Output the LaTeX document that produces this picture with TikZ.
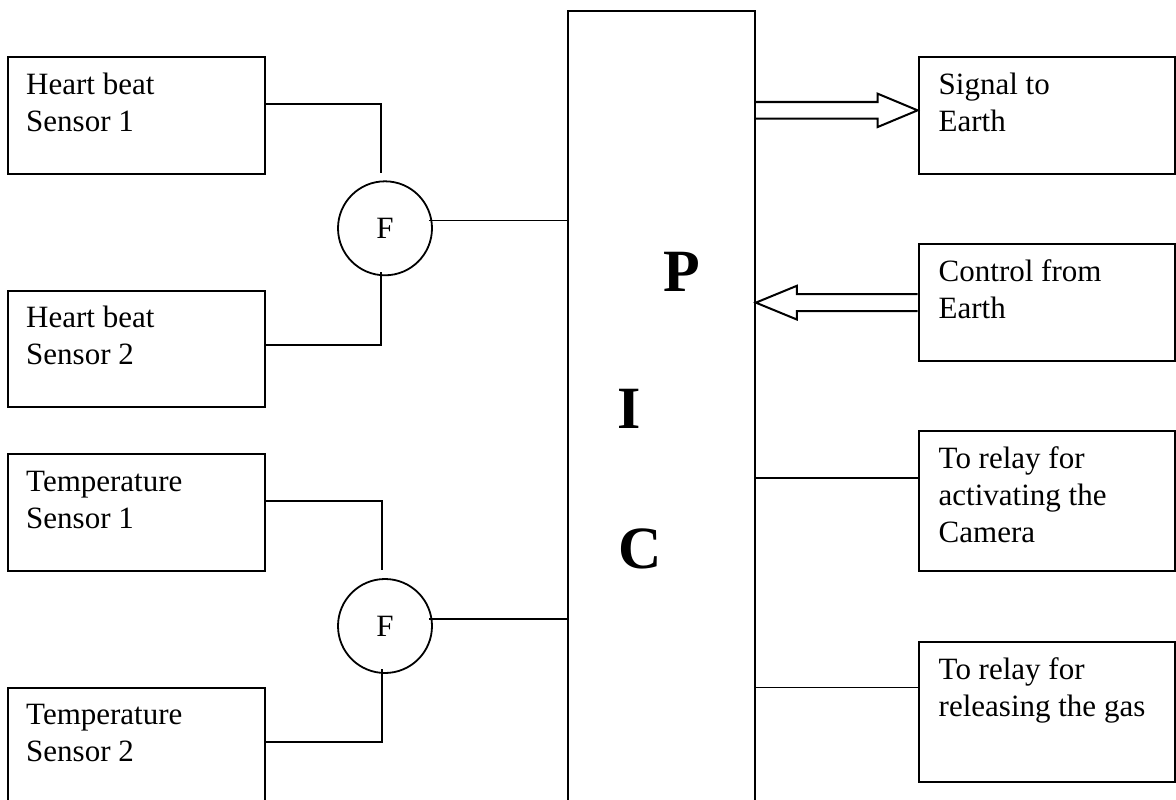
\documentclass[tikz,border=0pt]{standalone}
\usepackage{fontspec}
\setmainfont{Liberation Serif}
\usetikzlibrary{calc}
\begin{document}
\begin{tikzpicture}[x=1pt,y=-1pt,
  box/.style={draw, line width=2pt, rectangle, inner sep=0pt},
  txt/.style={anchor=north west, inner sep=0pt, align=left, font=\fontsize{31}{37}\selectfont},
  conn/.style={line width=1.8pt},
  fnode/.style={draw, circle, line width=1.8pt, minimum size=94pt, inner sep=0pt, font=\fontsize{31}{37}\selectfont},
  big/.style={anchor=base, inner sep=0pt, font=\fontsize{60}{72}\selectfont\bfseries},
  hollow/.style={line width=2pt, line join=miter}]
\useasboundingbox (0,0) rectangle (1176,800);
\clip (0,0) rectangle (1176,800);

% left sensor boxes
\node[box, minimum width=257pt, minimum height=117pt] (hb1) at (136,115.5) {};
\node[box, minimum width=257pt, minimum height=116.6pt] (hb2) at (136,349) {};
\node[box, minimum width=257pt, minimum height=117pt] (ts1) at (136,512.8) {};
\node[box, minimum width=257pt, minimum height=117.3pt] (ts2) at (136,746.35) {};

\node[txt] (hb1t) at ([xshift=19.5pt,yshift=-12.1pt]hb1.north west) {\strut Heart beat\\\strut Sensor 1};
\node[txt] (hb2t) at ([xshift=19.5pt,yshift=-12.1pt]hb2.north west) {\strut Heart beat\\\strut Sensor 2};
\node[txt] (ts1t) at ([xshift=19.5pt,yshift=-12.1pt]ts1.north west) {\strut Temperature\\\strut Sensor 1};
\node[txt] (ts2t) at ([xshift=19.5pt,yshift=-12.1pt]ts2.north west) {\strut Temperature\\\strut Sensor 2};

% filters
\node[fnode] (f1) at (385,228.3) {F};
\node[fnode] (f2) at (385,626) {F};

% PIC
\node[draw, line width=1.7pt, rectangle, inner sep=0pt, minimum width=187pt, minimum height=819.3pt] (pic) at (661.5,420.35) {};
\node[big] (lp) at (681.5,291.7) {P};
\node[big] (li) at (629.5,428.3) {I};
\node[big] (lc) at (640,568) {C};

% right boxes
\node[box, minimum width=256.4pt, minimum height=116.7pt] (sig) at (1046.8,115.35) {};
\node[box, minimum width=256.4pt, minimum height=116.7pt] (ctl) at (1046.8,302.65) {};
\node[box, minimum width=256.4pt, minimum height=140.3pt] (cam) at (1046.8,501.15) {};
\node[box, minimum width=256.4pt, minimum height=139.5pt] (gas) at (1046.8,711.75) {};

\node[txt] (sigt) at ([xshift=20.9pt,yshift=-12.1pt]sig.north west) {\strut Signal to\\\strut Earth};
\node[txt] (ctlt) at ([xshift=20.9pt,yshift=-12.1pt]ctl.north west) {\strut Control from\\\strut Earth};
\node[txt] (camt) at ([xshift=20.9pt,yshift=-12.1pt]cam.north west) {\strut To relay for\\\strut activating the\\\strut Camera};
\node[txt] (gast) at ([xshift=20.9pt,yshift=-12.1pt]gas.north west) {\strut To relay for\\\strut releasing the gas};

% sensor connectors
\draw[conn] ([yshift=11.8pt]hb1.east) -| ([xshift=-4pt,yshift=7.7pt]f1.north);
\draw[conn] ([xshift=-4pt,yshift=4pt]f1.south) |- ([yshift=4pt]hb2.east);
\draw[conn] ([yshift=12.1pt]ts1.east) -| ([xshift=-3pt,yshift=8pt]f2.north);
\draw[conn] ([xshift=-3pt,yshift=4.7pt]f2.south) |- ([yshift=4.05pt]ts2.east);

\coordinate (f1o) at ([xshift=-4pt,yshift=7.8pt]f1.east);
\draw[conn] (f1o) -- (f1o -| pic.west);
\coordinate (f2o) at ([xshift=-4pt,yshift=6.7pt]f2.east);
\draw[conn] (f2o) -- (f2o -| pic.west);

% relay connectors
\coordinate (camo) at ([yshift=23.45pt]cam.west);
\draw[conn] (camo -| pic.east) -- (camo);
\coordinate (gaso) at ([yshift=24.25pt]gas.west);
\draw[conn] (gaso -| pic.east) -- (gaso);

% hollow arrows
\coordinate (sa) at ([yshift=5pt]sig.west);
\draw[hollow] ($(sa -| pic.east)+(0,-8.35)$) -- ($(sa)+(-40,-8.35)$) -- ($(sa)+(-40,-16.7)$) -- (sa)
  -- ($(sa)+(-40,16.7)$) -- ($(sa)+(-40,8.35)$) -- ($(sa -| pic.east)+(0,8.35)$);

\coordinate (ca) at (ctl.west -| pic.east);
\draw[hollow] ($(ctl.west)+(0,-8.5)$) -- ($(ca)+(41,-8.5)$) -- ($(ca)+(41,-16.85)$) -- (ca)
  -- ($(ca)+(41,16.85)$) -- ($(ca)+(41,8.5)$) -- ($(ctl.west)+(0,8.5)$);
\end{tikzpicture}
\end{document}
